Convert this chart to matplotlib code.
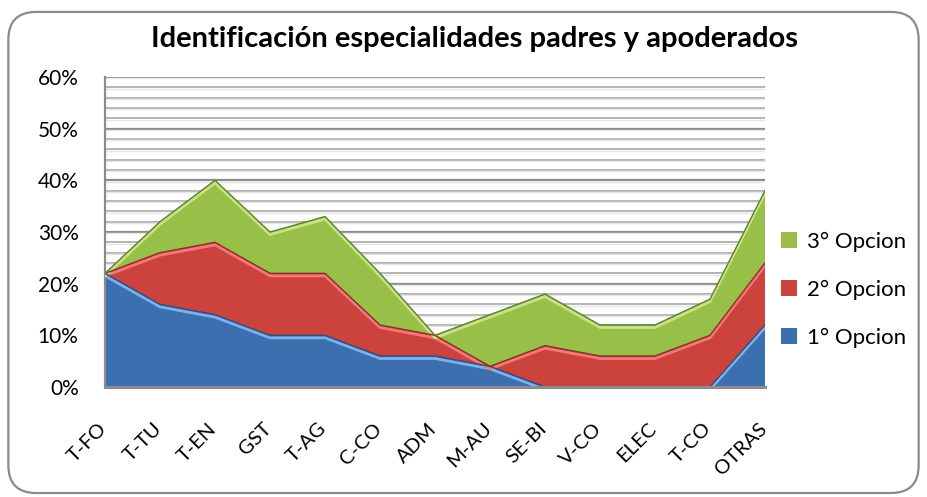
import matplotlib
matplotlib.use("Agg")
import matplotlib.pyplot as plt
import numpy as np
from matplotlib.patches import FancyBboxPatch
import matplotlib.transforms as mtransforms

categories = ["T-FO", "T-TU", "T-EN", "GST", "T-AG", "C-CO", "ADM", "M-AU",
              "SE-BI", "V-CO", "ELEC", "T-CO", "OTRAS"]
opcion1 = [22, 16, 14, 10, 10, 6, 6, 4, 0, 0, 0, 0, 12]
opcion2 = [0, 10, 14, 12, 12, 6, 4, 0, 8, 6, 6, 10, 12]
opcion3 = [0, 6, 12, 8, 11, 10, 0, 10, 10, 6, 6, 7, 14]
series_names = ["1° Opcion", "2° Opcion", "3° Opcion"]
yticks = [0, 10, 20, 30, 40, 50, 60]

plt.rcParams['font.family'] = ['Lato', 'DejaVu Sans']

fig = plt.figure(figsize=(9.27, 4.97), dpi=100)
fig.patch.set_facecolor("white")

border = FancyBboxPatch((0.009, 0.008), 0.982, 0.968,
                        boxstyle="round,pad=0,rounding_size=0.03",
                        transform=fig.transFigure, facecolor="none",
                        edgecolor="#8a8a8a", linewidth=1.6, zorder=-1,
                        mutation_aspect=927/497)
fig.patches.append(border)

ax = fig.add_axes([0.1133, 0.2213, 0.7119, 0.6237])
ax.set_facecolor("none")
x = np.arange(len(categories))
ax.set_xlim(0, len(categories) - 1)
ax.set_ylim(0, 60)

# gridlines
for v in np.arange(2, 61, 2):
    major = (v % 10 == 0)
    ax.axhline(v, color="#8c8c8c" if major else "#b4b4b4",
               lw=1.6 if major else 1.4, zorder=1)
    ax.axhline(v - 0.25, color="#e6e6e6", lw=1.0, zorder=1)

fills = [("#3c6fb0", "#7fb0ea", "#2b507f"),
         ("#cc423d", "#f07b76", "#8e2c29"),
         ("#98c048", "#c6e387", "#5f7f2a")]
data = [opcion1, opcion2, opcion3]
base = np.zeros(len(categories))
handles = []
offset = mtransforms.ScaledTranslation(0, -2.5 / 100, fig.dpi_scale_trans)
for vals, (c, hl, dk), name in zip(data, fills, series_names):
    top = base + np.array(vals)
    h = ax.fill_between(x, base, top, facecolor=c, edgecolor="none", zorder=2, label=name)
    ax.plot(x, top, color=hl, lw=2.0, zorder=3, transform=ax.transData + offset)
    ax.plot(x, top, color=dk, lw=1.0, zorder=4)
    handles.append(h)
    base = top

ax.set_yticks(yticks)
ax.set_yticklabels([f"{v}%" for v in yticks], fontsize=15)
ax.set_xticks(x)
ax.set_xticklabels(categories, rotation=45, ha="right", va="center",
                   rotation_mode="anchor", fontsize=14.5)
ax.tick_params(axis="both", length=0)
ax.tick_params(axis="y", pad=19)
ax.tick_params(axis="x", pad=28)
xshift = mtransforms.ScaledTranslation(-1 / 100, 0, fig.dpi_scale_trans)
for lab in ax.get_xticklabels():
    lab.set_transform(lab.get_transform() + xshift)
for s in ["top", "right"]:
    ax.spines[s].set_visible(False)
ax.spines["left"].set_color("#8c8c8c")
ax.spines["left"].set_linewidth(1.6)
ax.spines["bottom"].set_color("#8c8c8c")
ax.spines["bottom"].set_linewidth(2.2)
ax.spines["bottom"].set_zorder(5)

fig.text(0.512, 0.921, "Identificación especialidades padres y apoderados",
         ha="center", va="center", fontsize=21, fontweight="bold")

leg = fig.legend(handles[::-1], series_names[::-1], loc="center left",
                 bbox_to_anchor=(0.843, 0.4165), frameon=False, fontsize=16,
                 handlelength=0.72, handleheight=0.72, handletextpad=0.45,
                 labelspacing=1.25, borderaxespad=0, borderpad=0)

fig.savefig("out.png", dpi=100)
